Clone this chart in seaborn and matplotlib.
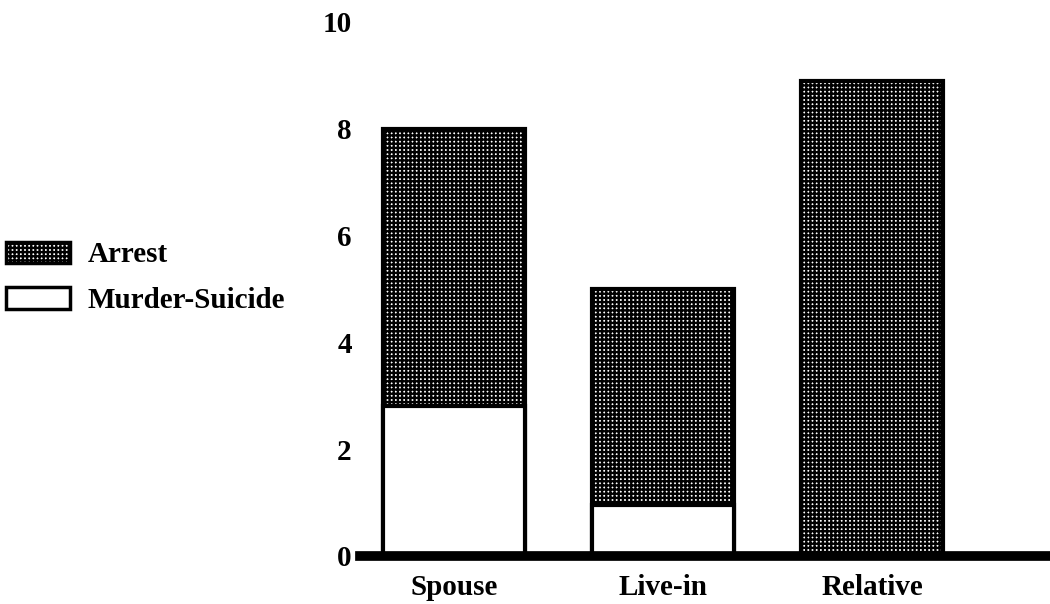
import seaborn as sns
import matplotlib.pyplot as plt
import matplotlib.patches as mpatches
import pandas as pd

categories = ['Spouse', 'Live-in', 'Relative']
murder_suicide = [2.8, 0.95, 0.0]
arrest = [5.2, 4.05, 8.9]
totals = [m + a for m, a in zip(murder_suicide, arrest)]
y_ticks = [0, 2, 4, 6, 8, 10]

sns.set_theme(style='white')
plt.rcParams['font.family'] = ['Liberation Serif', 'DejaVu Serif']
plt.rcParams['font.weight'] = 'bold'
plt.rcParams['text.color'] = 'black'
plt.rcParams['xtick.color'] = 'black'
plt.rcParams['ytick.color'] = 'black'
plt.rcParams['hatch.linewidth'] = 1.7
plt.rcParams['hatch.color'] = 'black'

df = pd.DataFrame({'relation': categories, 'total': totals, 'ms': murder_suicide})

fig = plt.figure(figsize=(10.5, 6.04), dpi=100)
ax = fig.add_axes([0.343, 0.0795, 0.657, 0.8845])

# arrest part drawn as the full bar, murder-suicide drawn over it
sns.barplot(data=df, x='relation', y='total', color='white', saturation=1,
            hatch='++++', edgecolor='black', linewidth=3, width=0.68, ax=ax)
sns.barplot(data=df, x='relation', y='ms', color='white', saturation=1,
            edgecolor='black', linewidth=3, width=0.68, ax=ax)

ax.set_xlim(-0.45, 2.85)
ax.set_ylim(0, 10)
ax.set_yticks(y_ticks)
ax.set_xlabel('')
ax.set_ylabel('')
for s in ['top', 'right', 'left']:
    ax.spines[s].set_visible(False)
ax.spines['bottom'].set_color('black')
ax.spines['bottom'].set_linewidth(7)
ax.tick_params(axis='both', length=0, labelsize=21, labelcolor='black')
ax.tick_params(axis='x', pad=13)
ax.tick_params(axis='y', pad=6)

handles = [mpatches.Patch(facecolor='white', edgecolor='black', hatch='++++', linewidth=2.5),
           mpatches.Patch(facecolor='white', edgecolor='black', linewidth=2.5)]
fig.legend(handles, ['Arrest', 'Murder-Suicide'], loc='center left',
           bbox_to_anchor=(0.0, 0.54), frameon=False, fontsize=21,
           handlelength=2.2, handleheight=0.75, handletextpad=0.6,
           labelspacing=0.65, borderaxespad=0, borderpad=0.2)

fig.savefig('out.png', dpi=100)
